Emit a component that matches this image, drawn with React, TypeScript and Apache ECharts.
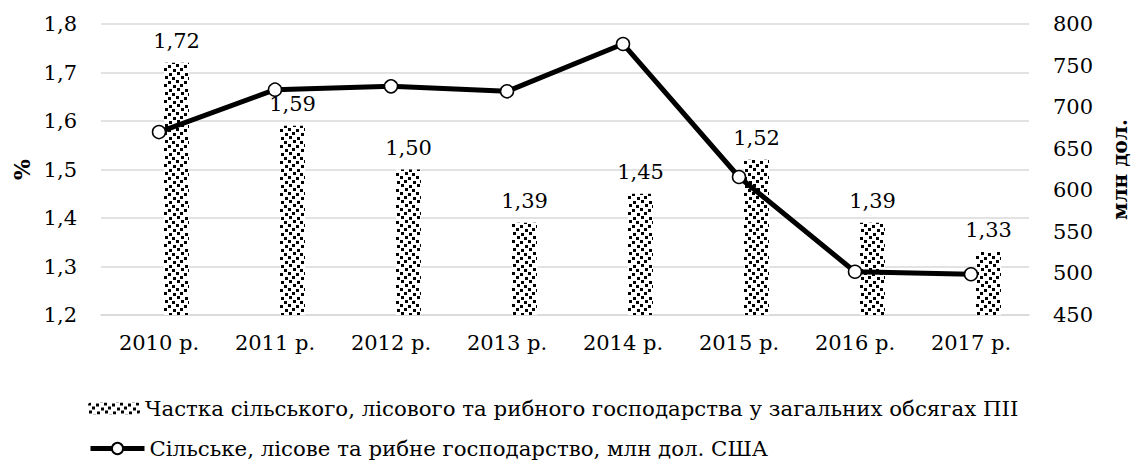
import React, { useEffect, useRef } from "react";
import * as echarts from "echarts";

const categories = ["2010 р.", "2011 р.", "2012 р.", "2013 р.", "2014 р.", "2015 р.", "2016 р.", "2017 р."];
const shareValues = [1.72, 1.59, 1.5, 1.39, 1.45, 1.52, 1.39, 1.33];
const usdValues = [670, 721, 725, 719, 776, 616, 502, 499];
const shareName = "Частка сільського, лісового та рибного господарства у загальних обсягах ПІІ";
const usdName = "Сільське, лісове та рибне господарство, млн дол. США";

const FONT = "DejaVu Serif";

function makePattern(): string {
  const c = document.createElement("canvas");
  c.width = 16;
  c.height = 16;
  const ctx = c.getContext("2d")!;
  ctx.fillStyle = "#ffffff";
  ctx.fillRect(0, 0, 16, 16);
  ctx.fillStyle = "#000000";
  const sq: [number, number][] = [
    [0, 0], [8, 1], [4, 4], [13, 5], [1, 8], [9, 9], [5, 12], [12, 13],
  ];
  sq.forEach(([x, y]) => ctx.fillRect(x, y, 3, 3));
  return c.toDataURL();
}

const fmt1 = (v: number) => v.toFixed(1).replace(".", ",");
const fmt2 = (v: number) => v.toFixed(2).replace(".", ",");

export default function App() {
  const ref = useRef<HTMLDivElement>(null);
  useEffect(() => {
    if (!ref.current) return;
    const chart = echarts.init(ref.current, undefined, { renderer: "svg" });
    const pattern = makePattern();
    const fill = { image: pattern, repeat: "repeat" } as any;
    const legendText = { fontFamily: FONT, fontSize: 21.3, color: "#000" };
    chart.setOption({
      animation: false,
      backgroundColor: "#ffffff",
      textStyle: { fontFamily: FONT, color: "#000" },
      grid: { left: 101, right: 104, top: 24, bottom: 149, outerBoundsMode: "none", containLabel: false },
      legend: [
        {
          left: 83,
          top: 393,
          itemWidth: 52,
          itemHeight: 12,
          itemGap: 5,
          data: [shareName],
          textStyle: legendText,
        },
        {
          left: 83,
          top: 433,
          itemWidth: 54,
          itemHeight: 14,
          data: [usdName],
          textStyle: legendText,
          lineStyle: { width: 5, color: "#000" },
        },
      ],
      xAxis: {
        type: "category",
        data: categories,
        axisTick: { show: false },
        axisLine: { lineStyle: { color: "#d9d9d9", width: 1.5 } },
        axisLabel: { fontFamily: FONT, fontSize: 21, color: "#000", margin: 17 },
      },
      yAxis: [
        {
          type: "value",
          min: 1.2,
          max: 1.8,
          interval: 0.1,
          name: "%",
          nameLocation: "middle",
          nameGap: 68,
          nameRotate: 90,
          nameTextStyle: { fontFamily: FONT, fontSize: 22, fontWeight: "bold", color: "#000" },
          axisLine: { show: false },
          axisTick: { show: false },
          splitLine: { lineStyle: { color: "#d9d9d9", width: 1.5 } },
          axisLabel: { fontFamily: FONT, fontSize: 21, color: "#000", margin: 24, formatter: (v: number) => fmt1(v) },
        },
        {
          type: "value",
          min: 450,
          max: 800,
          interval: 50,
          name: "млн дол.",
          nameLocation: "middle",
          nameGap: 81,
          nameRotate: 90,
          nameTextStyle: { fontFamily: FONT, fontSize: 20, fontWeight: "bold", color: "#000" },
          axisLine: { show: false },
          axisTick: { show: false },
          splitLine: { show: false },
          axisLabel: { fontFamily: FONT, fontSize: 21, color: "#000", margin: 24 },
        },
      ],
      series: [
        {
          name: "_spacer",
          type: "bar",
          yAxisIndex: 0,
          barWidth: 25,
          barGap: "40%",
          data: shareValues.map(() => null),
          itemStyle: { color: "transparent" },
          silent: true,
        },
        {
          name: shareName,
          type: "bar",
          yAxisIndex: 0,
          barWidth: 25,
          barGap: "40%",
          data: shareValues,
          itemStyle: { color: fill },
          label: {
            show: true,
            position: "top",
            distance: 11,
            fontFamily: FONT,
            fontSize: 21,
            color: "#000",
            formatter: (p: any) => fmt2(p.value),
          },
        },
        {
          name: usdName,
          type: "line",
          yAxisIndex: 1,
          data: usdValues,
          symbol: "circle",
          symbolSize: 13,
          lineStyle: { color: "#000", width: 5 },
          itemStyle: { color: "#ffffff", borderColor: "#000", borderWidth: 1.5 },
          z: 5,
        },
      ],
    });
    return () => chart.dispose();
  }, []);
  return <div ref={ref} style={{ position: "fixed", left: 0, top: 0, width: 1133, height: 464 }} />;
}
